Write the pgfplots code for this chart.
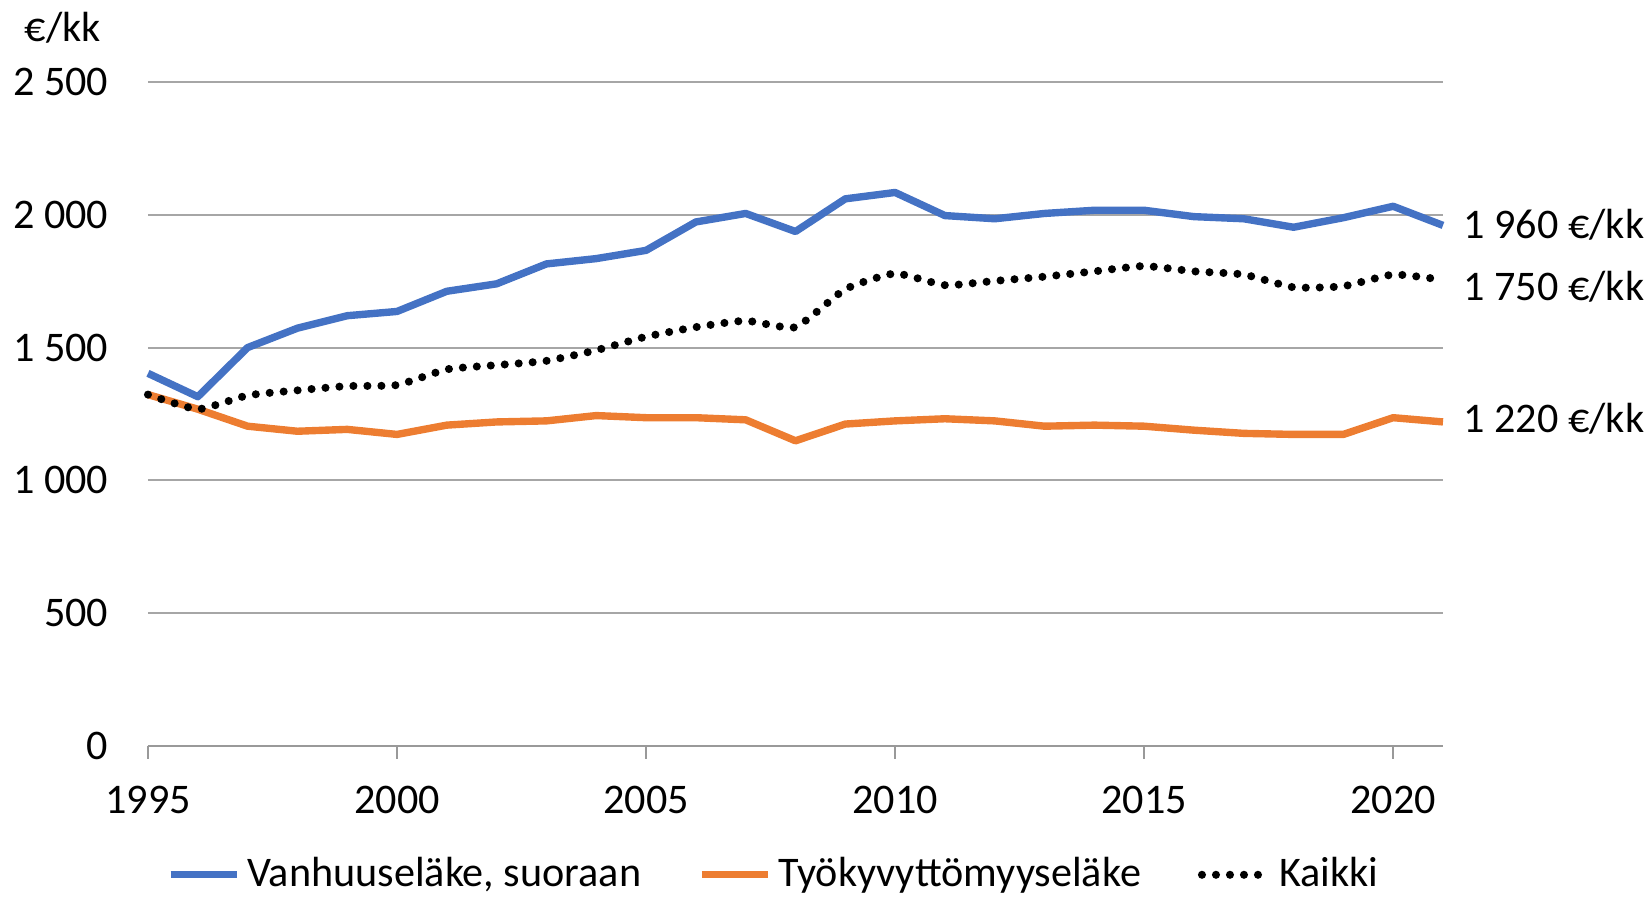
\documentclass[border=0pt]{standalone}
\usepackage{pgfplots}
\pgfplotsset{compat=1.18}
\usepackage{fontspec}
\setmainfont{Carlito}

\definecolor{vblue}{HTML}{4472C4}
\definecolor{torange}{HTML}{ED7D31}

\begin{document}
\fontsize{12}{14}\selectfont
\begin{tikzpicture}
\begin{axis}[
    name=ax,
    scale only axis,
    width=12.95cm, height=6.64cm,
    xmin=1995, xmax=2021,
    ymin=0, ymax=2500,
    xtick={1995,2000,2005,2010,2015,2020},
    ytick={0,500,1000,1500,2000,2500},
    axis lines*=left,
    axis line style={-, draw=black!40, line width=0.6pt},
    y axis line style={draw=none},
    ymajorgrids,
    grid style={black!35, line width=0.6pt},
    x tick style={draw=black!40, line width=0.6pt},
    y tick style={draw=none},
    major tick length=0.13cm,
    xtick align=outside,
    /pgf/number format/assume math mode=true,
    x tick label style={/pgf/number format/1000 sep={}, yshift=-0.12cm},
    y tick label style={/pgf/number format/1000 sep={\ }, xshift=-0.25cm},
    yticklabel style={font=\fontsize{12}{14}\selectfont},
    xticklabel style={font=\fontsize{12}{14}\selectfont},
    clip=false,
    legend columns=3,
    legend style={at={(0.485,-0.194)}, anchor=center, draw=none,
        font=\fontsize{12}{14}\selectfont,
        /tikz/every even column/.append style={column sep=0.5cm}},
    legend image code/.code={\draw[#1] (0cm,0cm) -- (0.66cm,0cm);},
]
\addplot[vblue, line width=2.1pt, line join=round] coordinates {
(1995,1403) (1996,1315) (1997,1500) (1998,1573) (1999,1620) (2000,1636)
(2001,1712) (2002,1740) (2003,1815) (2004,1835) (2005,1866) (2006,1973)
(2007,2005) (2008,1937) (2009,2060) (2010,2084) (2011,1997) (2012,1985)
(2013,2005) (2014,2017) (2015,2017) (2016,1993) (2017,1985) (2018,1953)
(2019,1989) (2020,2032) (2021,1960)
};
\addlegendentry{Vanhuuseläke, suoraan}
\addplot[torange, line width=2.1pt, line join=round] coordinates {
(1995,1323) (1996,1268) (1997,1204) (1998,1185) (1999,1192) (2000,1173)
(2001,1208) (2002,1220) (2003,1224) (2004,1244) (2005,1236) (2006,1236)
(2007,1228) (2008,1149) (2009,1212) (2010,1224) (2011,1232) (2012,1224)
(2013,1204) (2014,1208) (2015,1204) (2016,1189) (2017,1177) (2018,1173)
(2019,1173) (2020,1236) (2021,1220)
};
\addlegendentry{Työkyvyttömyyseläke}
\addplot[black, line width=2.3pt, line cap=round, dash pattern=on 0pt off 0.14cm, smooth, tension=0.3] coordinates {
(1995,1323) (1996,1268) (1997,1320) (1998,1339) (1999,1355) (2000,1359)
(2001,1418) (2002,1434) (2003,1450) (2004,1490) (2005,1541) (2006,1577)
(2007,1601) (2008,1577) (2009,1720) (2010,1779) (2011,1735) (2012,1751)
(2013,1767) (2014,1787) (2015,1807) (2016,1787) (2017,1775) (2018,1727)
(2019,1731) (2020,1775) (2021,1755)
};
\addlegendentry{Kaikki}
\node[anchor=west, inner sep=0pt] at (axis cs:2021,1962) [xshift=0.2cm] {1 960 €/kk};
\node[anchor=west, inner sep=0pt] at (axis cs:2021,1728) [xshift=0.2cm] {1 750 €/kk};
\node[anchor=west, inner sep=0pt] at (axis cs:2021,1231) [xshift=0.2cm] {1 220 €/kk};
\end{axis}
\node[anchor=center] at ([xshift=-0.85cm,yshift=0.54cm]ax.north west) {€/kk};
\pgfresetboundingbox
\path ([xshift=-1.48cm,yshift=-1.51cm]ax.south west) rectangle ([xshift=2.07cm,yshift=0.82cm]ax.north east);
\end{tikzpicture}
\end{document}
